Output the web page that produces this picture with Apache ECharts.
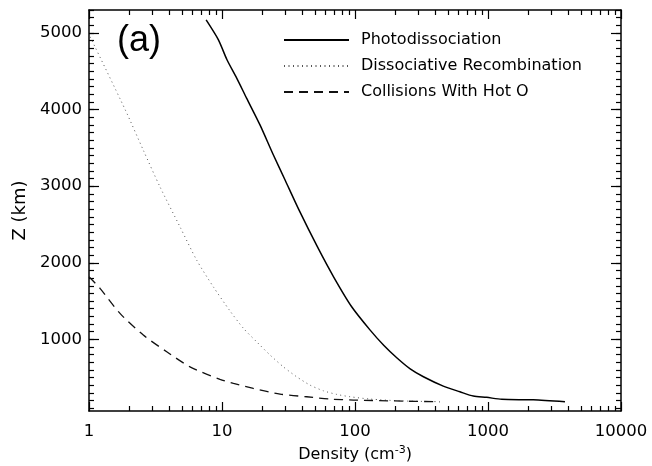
<!DOCTYPE html>
<html>
<head>
<meta charset="utf-8">
<script src="https://cdn.jsdelivr.net/npm/echarts@6/dist/echarts.min.js"></script>
<style>
  html, body { margin: 0; padding: 0; background: #fff; }
  #chart { width: 652px; height: 466px; }
</style>
</head>
<body>
<div id="chart"></div>
<script>
// Photodissociation
var photoDensity = [7.6, 9.4, 10.9, 12.9, 15.3, 19.3, 24.3, 29.8, 37.9, 52.1, 69, 94.4, 130, 165, 206, 260, 327, 461, 615, 775, 977, 1268, 2190, 3790];
var photoZ       = [5170, 4910, 4650, 4410, 4150, 3800, 3410, 3080, 2690, 2210, 1817, 1426, 1121, 920, 760, 615, 512, 390, 316, 260, 243, 217, 211, 185];

// Dissociative Recombination
var drDensity = [1.02, 1.87, 2.56, 3.42, 4.83, 6.45, 8.6, 11.5, 14.5, 18.2, 23, 28.9, 36.4, 45.9, 57.8, 72.8, 91.8, 130, 220, 430];
var drZ       = [4950, 4000, 3470, 2990, 2470, 2035, 1687, 1370, 1144, 969, 795, 642, 512, 403, 329, 282, 251, 221, 197, 187];

// Collisions With Hot O
var hotDensity = [1.0, 1.21, 1.71, 2.56, 3.84, 5.74, 9.66, 12.2, 17.2, 27.3, 43.3, 64.9, 97, 200, 435];
var hotZ       = [1817, 1666, 1339, 1056, 838, 642, 478, 425, 360, 286, 251, 221, 208, 196, 185];

var seriesNames = ['Photodissociation', 'Dissociative Recombination', 'Collisions With Hot O'];

var xMajor = [1, 10, 100, 1000, 10000];
var xMinor = [2, 3, 4, 5, 6, 7, 8, 9, 20, 30, 40, 50, 60, 70, 80, 90,
              200, 300, 400, 500, 600, 700, 800, 900, 2000, 3000, 4000, 5000, 6000, 7000, 8000, 9000];
var yMajor = [1000, 2000, 3000, 4000, 5000];
var yMinor = [];
for (var v = 100; v <= 5300; v += 100) yMinor.push(v);

var Y_MIN = 65, Y_MAX = 5300;
var FONT = 'DejaVu Sans';

function pairs (xs, ys) {
  return xs.map(function (x, i) { return [x, ys[i]]; });
}

var axisLine = { show: true, lineStyle: { color: '#000', width: 1.5 } };

function xAxisDef (pos, ticks, len, labels, line) {
  return {
    type: 'log', logBase: 10, min: 1, max: 10000, position: pos,
    axisLine: line ? axisLine : { show: false },
    axisTick: { show: true, inside: true, length: len, customValues: ticks, lineStyle: { color: '#000', width: 1.2 } },
    axisLabel: labels ? {
      show: true, customValues: xMajor, margin: 12, color: '#000', fontFamily: FONT, fontSize: 16.5,
      formatter: function (val) { return String(Math.round(val)); }
    } : { show: false },
    splitLine: { show: false }, minorTick: { show: false }
  };
}

function yAxisDef (pos, ticks, len, labels, line) {
  return {
    type: 'value', min: Y_MIN, max: Y_MAX, position: pos,
    axisLine: line ? axisLine : { show: false },
    axisTick: { show: true, inside: true, length: len, customValues: ticks, lineStyle: { color: '#000', width: 1.2 } },
    axisLabel: labels ? {
      show: true, customValues: yMajor, margin: 7, color: '#000', fontFamily: FONT, fontSize: 16.5,
      formatter: function (val) { return String(val); }
    } : { show: false },
    splitLine: { show: false }
  };
}

var xAxes = [
  xAxisDef('bottom', xMajor, 9, true, true),
  xAxisDef('bottom', xMinor, 5, false, false),
  xAxisDef('top', xMajor, 9, false, true),
  xAxisDef('top', xMinor, 5, false, false)
];
xAxes[0].name = 'Density (cm{sup|-3})';
xAxes[0].nameLocation = 'middle';
xAxes[0].nameGap = 33;
xAxes[0].nameTextStyle = {
  color: '#000', fontFamily: FONT, fontSize: 16,
  rich: { sup: { fontSize: 11, fontFamily: FONT, color: '#000', padding: [0, 0, 8, 0] } }
};

var yAxes = [
  yAxisDef('left', yMajor, 10, true, true),
  yAxisDef('left', yMinor, 5, false, false),
  yAxisDef('right', yMajor, 10, false, true),
  yAxisDef('right', yMinor, 5, false, false)
];
yAxes[0].name = 'Z (km)';
yAxes[0].nameLocation = 'middle';
yAxes[0].nameGap = 60;
yAxes[0].nameTextStyle = { color: '#000', fontFamily: FONT, fontSize: 18 };

var chart = echarts.init(document.getElementById('chart'), null, { renderer: 'canvas' });

chart.setOption({
  animation: false,
  backgroundColor: '#fff',
  grid: { left: 89, right: 31, top: 10, bottom: 55, containLabel: false, outerBoundsMode: 'none' },
  legend: {
    data: seriesNames,
    orient: 'vertical',
    left: 283, top: 32, padding: 0,
    itemWidth: 65, itemHeight: 14, itemGap: 10,
    itemStyle: { opacity: 0 },
    textStyle: { color: '#000', fontFamily: FONT, fontSize: 16, lineHeight: 16, padding: [0, 0, 0, 7] }
  },
  xAxis: xAxes,
  yAxis: yAxes,
  graphic: [{
    type: 'text', left: 117, top: 23,
    style: { text: '(a)', fill: '#000', font: '36px "Liberation Sans"' }
  }],
  series: [
    {
      name: seriesNames[0], type: 'line', data: pairs(photoDensity, photoZ),
      symbol: 'none', smooth: 0.25, lineStyle: { color: '#000', width: 1.5, type: 'solid' }, itemStyle: { color: '#000' }
    },
    {
      name: seriesNames[1], type: 'line', data: pairs(drDensity, drZ),
      symbol: 'none', smooth: 0.25, lineStyle: { color: '#555', width: 1, type: [1, 3.5] }, itemStyle: { color: '#555' }
    },
    {
      name: seriesNames[2], type: 'line', data: pairs(hotDensity, hotZ),
      symbol: 'none', smooth: 0.25, lineStyle: { color: '#111', width: 1.3, type: [9, 6] }, itemStyle: { color: '#111' }
    }
  ]
});
</script>
</body>
</html>
